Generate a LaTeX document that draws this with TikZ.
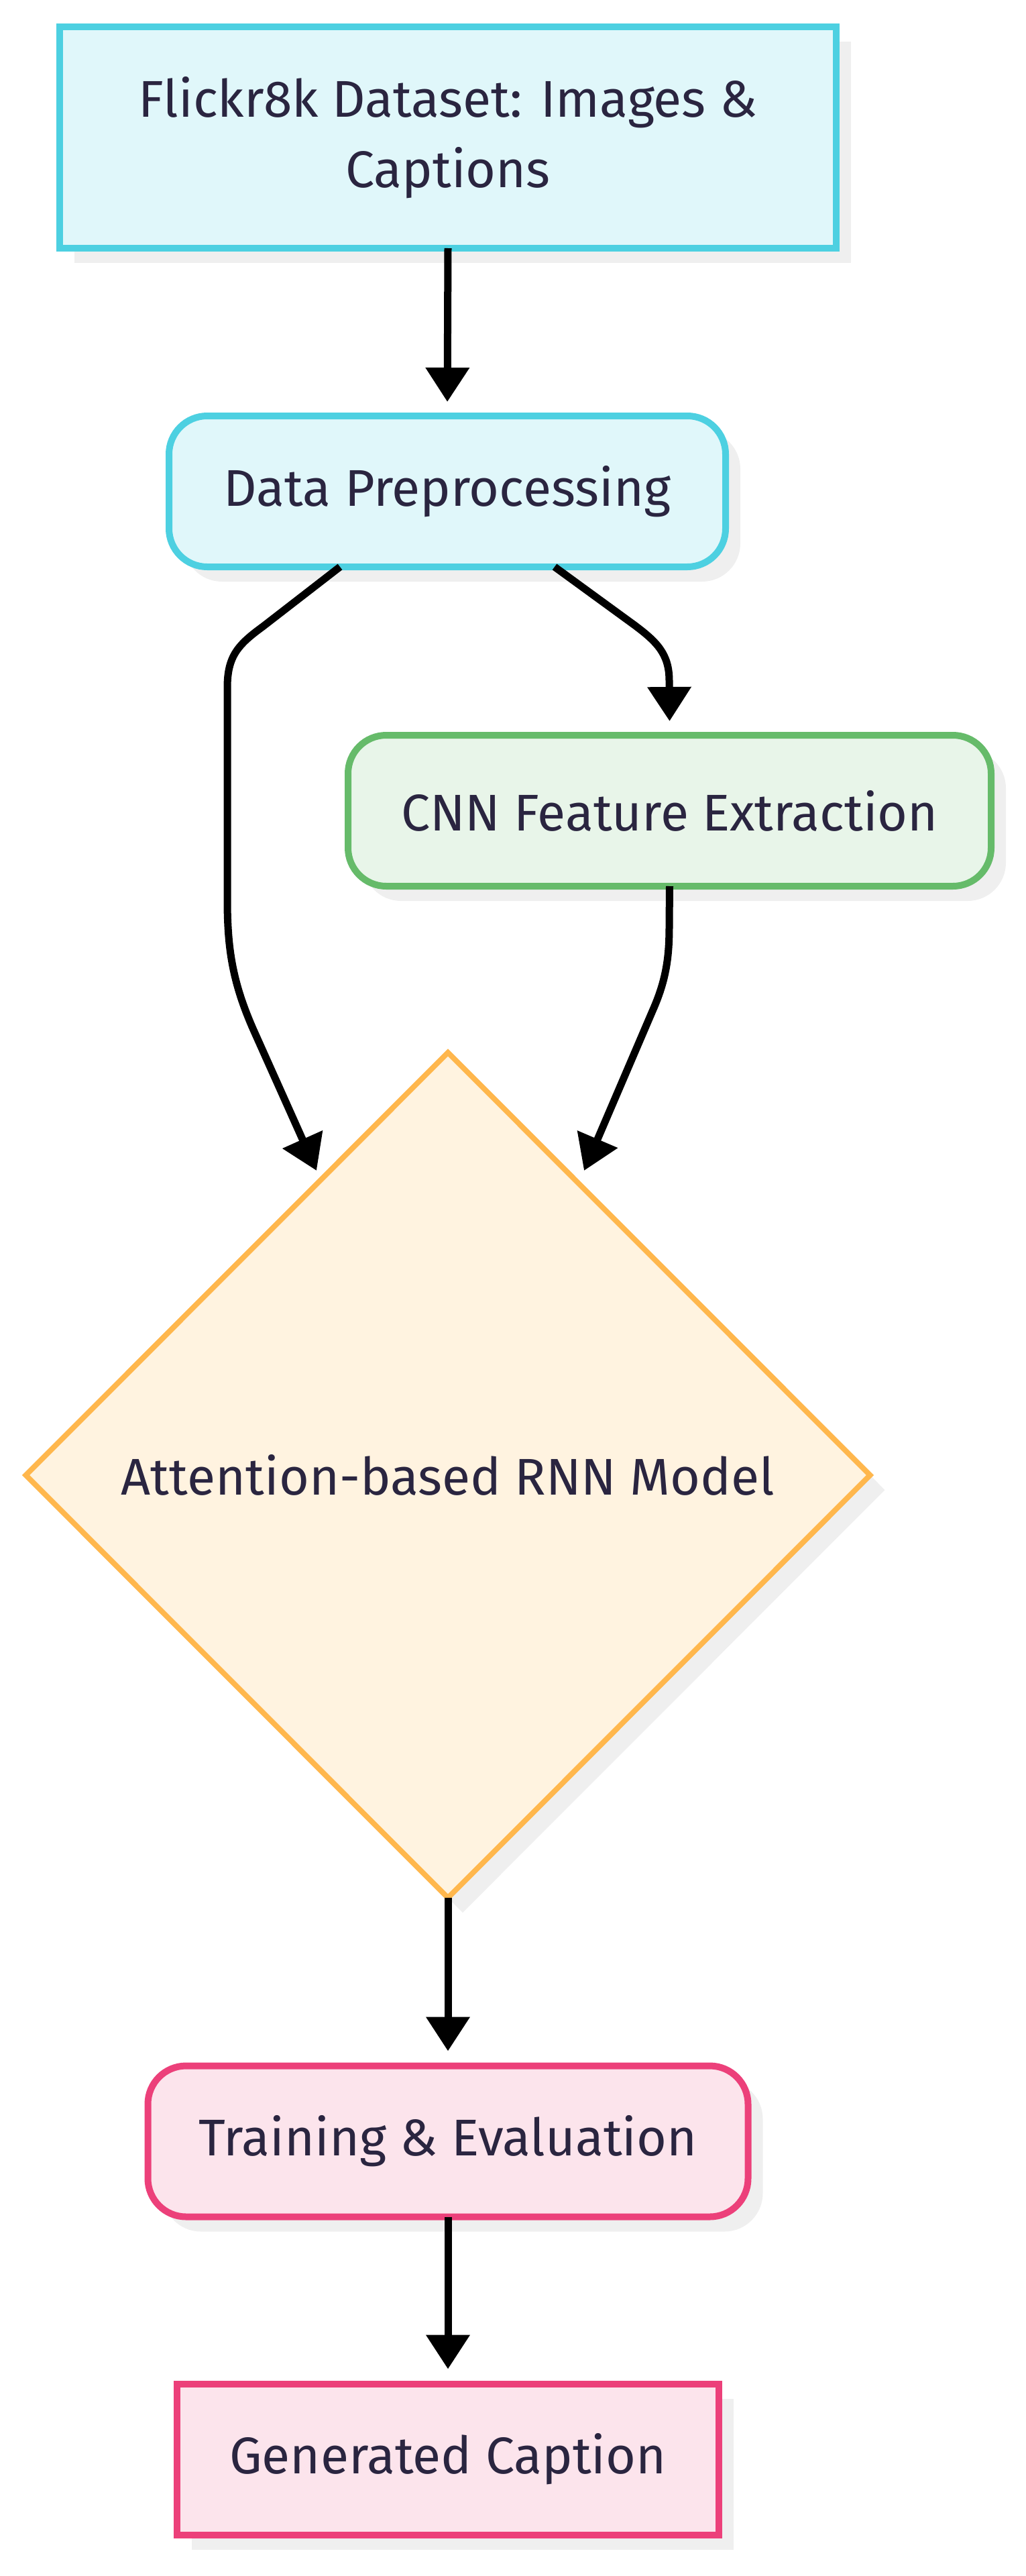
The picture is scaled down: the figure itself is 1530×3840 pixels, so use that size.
\documentclass[tikz,border=0pt]{standalone}
\usepackage{fontspec}
\setmainfont{Fira Sans}
\usetikzlibrary{arrows.meta,calc,shapes.geometric,shadows}
\definecolor{cyanb}{HTML}{4DD0E1}
\definecolor{cyanf}{HTML}{E0F7FA}
\definecolor{greenb}{HTML}{66BB6A}
\definecolor{greenf}{HTML}{E8F5E9}
\definecolor{orangeb}{HTML}{FFB74D}
\definecolor{orangef}{HTML}{FFF3E0}
\definecolor{pinkb}{HTML}{EC407A}
\definecolor{pinkf}{HTML}{FCE4EC}
\definecolor{shade}{HTML}{EFEFEF}
\definecolor{txt}{HTML}{2A2540}
\begin{document}
\begin{tikzpicture}[x=1pt,y=-1pt,
  base/.style={line width=10pt, inner sep=0pt, outer sep=0pt, text=txt, align=center,
    font=\fontsize{77}{105}\selectfont,
    drop shadow={shadow xshift=22pt, shadow yshift=-22pt, fill=shade, opacity=1}},
  sqbox/.style={base, rectangle},
  rbox/.style={base, rectangle, rounded corners=57pt},
  cyanst/.style={draw=cyanb, fill=cyanf},
  greenst/.style={draw=greenb, fill=greenf},
  orangest/.style={draw=orangeb, fill=orangef},
  pinkst/.style={draw=pinkb, fill=pinkf},
  conn/.style={line width=11pt, draw=black, -{Triangle[length=51pt,width=63pt]}}
]
\useasboundingbox (0,0) rectangle (1530,3840);

\node[sqbox, cyanst, minimum width=1158pt, minimum height=330pt] (top) at (668,205)
  {Flickr8k Dataset: Images \&\\Captions};
\node[rbox, cyanst, minimum width=830pt, minimum height=225pt] (data) at (667,732.5)
  {Data Preprocessing};
\node[rbox, greenst, minimum width=959pt, minimum height=225pt] (cnn) at (998.5,1208.5)
  {CNN Feature Extraction};
\node[base, diamond, orangest, line width=8pt, minimum width=1259pt, minimum height=1260pt] (att) at (668,2199)
  {Attention-based RNN Model};
\node[rbox, pinkst, minimum width=895pt, minimum height=225pt] (train) at (668,3192)
  {Training \& Evaluation};
\node[sqbox, pinkst, minimum width=808pt, minimum height=225pt] (gen) at (668,3666)
  {Generated Caption};

\draw[conn, shorten >=21pt] (top.south) -- (data.north);
\draw[conn] ($(data.south)+(160,0)$) -- (945,931) .. controls (980,957) and (998,975) .. (998,1015)
  -- ($(cnn.north)+(0,-21)$);
\draw[conn] ($(data.south)+(-160,0)$) -- (392,934) .. controls (355,961) and (339,978) .. (339,1025)
  -- (339,1340) .. controls (339,1412) and (346,1462) .. (377,1533) -- ($(att.north)+(-196,176)$);
\draw[conn] (cnn.south) -- (998,1380) .. controls (998,1425) and (994,1460) .. (973,1507)
  -- ($(att.north)+(203,176)$);
\draw[conn, shorten >=22pt] (att.south) -- (train.north);
\draw[conn, shorten >=22pt] (train.south) -- (gen.north);
\end{tikzpicture}
\end{document}
